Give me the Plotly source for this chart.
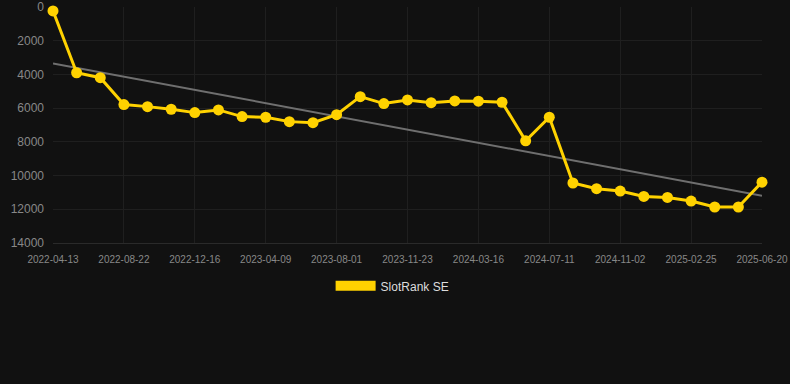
import numpy as np
import plotly.graph_objects as go

dates = [
    "2022-04-13", "2022-05-27", "2022-07-09", "2022-08-22", "2022-09-30", "2022-11-07",
    "2022-12-16", "2023-01-23", "2023-03-02", "2023-04-09", "2023-05-17", "2023-06-24",
    "2023-08-01", "2023-09-08", "2023-10-16", "2023-11-23", "2023-12-31", "2024-02-07",
    "2024-03-16", "2024-04-24", "2024-06-02", "2024-07-11", "2024-08-18", "2024-09-25",
    "2024-11-02", "2024-12-10", "2025-01-17", "2025-02-25", "2025-04-04", "2025-05-12",
    "2025-06-20",
]
ranks = [
    230, 3900, 4195, 5790, 5910, 6065, 6265, 6105, 6500, 6540, 6800, 6860,
    6385, 5320, 5730, 5515, 5675, 5575, 5590, 5650, 7940, 6540,
    10440, 10780, 10920, 11235, 11295, 11510, 11865, 11865, 10390,
]
series_name = "SlotRank SE"
y_ticks = [0, 2000, 4000, 6000, 8000, 10000, 12000, 14000]

idx = np.arange(len(dates))
slope, intercept = np.polyfit(idx, ranks, 1)
trend = slope * idx + intercept

fig = go.Figure()
fig.add_trace(go.Scatter(
    x=dates, y=trend, mode="lines", line=dict(color="#6f6f6f", width=2),
    hoverinfo="skip", showlegend=False,
))
fig.add_trace(go.Scatter(
    x=dates, y=ranks, mode="lines+markers", name=series_name,
    line=dict(color="#ffd200", width=3), marker=dict(color="#ffd200", size=11),
    showlegend=False, cliponaxis=False,
))
fig.add_trace(go.Scatter(
    x=[None], y=[None], mode="lines", name=series_name,
    line=dict(color="#ffd200", width=12), showlegend=True,
))

fig.update_layout(
    width=790, height=384,
    paper_bgcolor="#111111", plot_bgcolor="#111111",
    margin=dict(l=53, r=28, t=7, b=141),
    font=dict(family="Liberation Sans, Arial, sans-serif", color="#888888"),
    showlegend=True,
    legend=dict(
        orientation="h", x=0.479, xanchor="center", y=-0.12, yanchor="top",
        font=dict(size=12, color="#dddddd"), itemwidth=40,
        bgcolor="rgba(0,0,0,0)",
    ),
    xaxis=dict(
        type="category", range=[0, len(dates) - 1], automargin=False,
        tickmode="array", tickvals=dates[::3], ticktext=dates[::3],
        tickfont=dict(size=10, color="#888888"), tickangle=0,
        showgrid=True, gridcolor="#1f1f1f", gridwidth=1,
        zeroline=False, showline=True, linecolor="#2a2a2a", linewidth=1,
        ticks="outside", ticklen=7, tickcolor="rgba(0,0,0,0)",
    ),
    yaxis=dict(
        range=[14000, 0], tickvals=y_ticks, ticktext=[str(v) for v in y_ticks],
        automargin=False,
        tickfont=dict(size=12, color="#888888"),
        showgrid=True, gridcolor="#1f1f1f", gridwidth=1,
        zeroline=False, showline=False, ticklabelstandoff=8,
    ),
)

fig.write_html(
    "out.html",
    config={"displayModeBar": False},
    post_script="document.body.style.margin='0';document.body.style.background='#111111';",
)
